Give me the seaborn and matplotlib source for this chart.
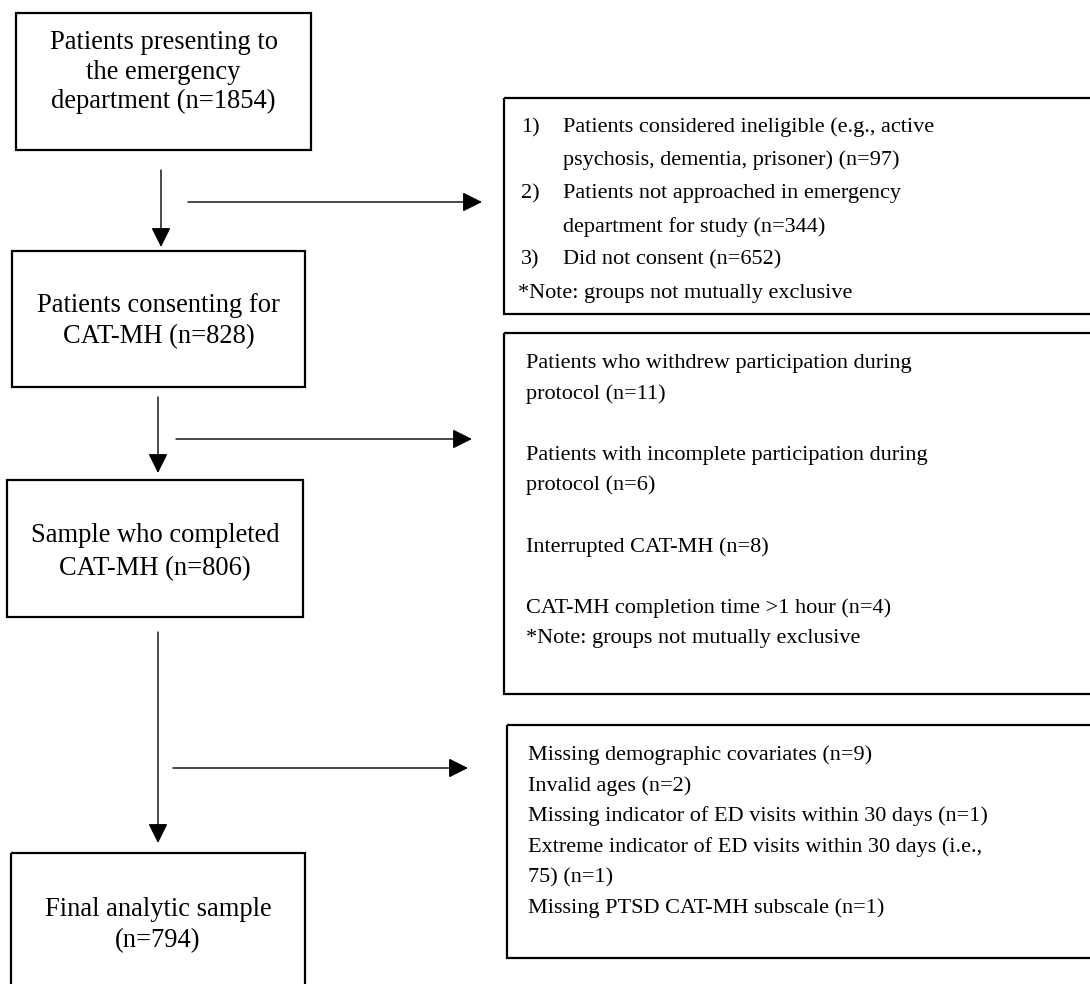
import matplotlib
matplotlib.use("Agg")
import matplotlib.pyplot as plt
from matplotlib.patches import Rectangle, FancyArrowPatch, ArrowStyle
import seaborn as sns

# ---------------- data (texts of the flow chart) ----------------
main_steps = [
    ["Patients presenting to", "the emergency", "department (n=1854)"],
    ["Patients consenting for", "CAT-MH (n=828)"],
    ["Sample who completed", "CAT-MH (n=806)"],
    ["Final analytic sample", "(n=794)"],
]

exclusion1_markers = ["1)", "", "2)", "", "3)"]
exclusion1_lines = [
    "Patients considered ineligible (e.g., active",
    "psychosis, dementia, prisoner) (n=97)",
    "Patients not approached in emergency",
    "department for study (n=344)",
    "Did not consent (n=652)",
]
exclusion1_note = "*Note: groups not mutually exclusive"

exclusion2_lines = [
    "Patients who withdrew participation during",
    "protocol (n=11)",
    "",
    "Patients with incomplete participation during",
    "protocol (n=6)",
    "",
    "Interrupted CAT-MH (n=8)",
    "",
    "CAT-MH completion time >1 hour (n=4)",
    "*Note: groups not mutually exclusive",
]

exclusion3_lines = [
    "Missing demographic covariates (n=9)",
    "Invalid ages (n=2)",
    "Missing indicator of ED visits within 30 days (n=1)",
    "Extreme indicator of ED visits within 30 days (i.e.,",
    "75) (n=1)",
    "Missing PTSD CAT-MH subscale (n=1)",
]

# ---------------- layout (pixels, y downward) ----------------
W, H = 1090, 984
main_boxes = [(16, 13, 311, 150), (12, 251, 305, 387), (7, 480, 303, 617), (11, 853, 305, 1010)]
main_baselines = [[49, 79, 108], [312, 343], [542, 575], [916, 947]]
side_boxes = [(504, 98, 1110, 314), (504, 333, 1110, 694), (507, 725, 1110, 958)]
ex1_base0, ex1_step = 132, 33.2
ex2_base0, ex2_step = 368, 30.6
ex3_base0, ex3_step = 760, 30.6
down_arrows = [(161, 170, 247), (158, 397, 473), (158, 632, 843)]
side_arrows = [(202, 188, 482), (439, 176, 472), (768, 173, 468)]

sns.set_theme(style="white")
plt.rcParams["font.family"] = ["Liberation Serif", "DejaVu Serif"]

fig = plt.figure(figsize=(W / 100, H / 100), dpi=100)
ax = fig.add_axes([0, 0, 1, 1])
ax.set_xlim(0, W)
ax.set_ylim(H, 0)
ax.axis("off")

BIG = 19.1
SMALL = 16.0
box_lw = 1.6

def draw_box(b):
    x0, y0, x1, y1 = b
    ax.add_patch(Rectangle((x0, y0), x1 - x0, y1 - y0, fill=False,
                           edgecolor="black", lw=box_lw, zorder=2))

for b, lines, bases in zip(main_boxes, main_steps, main_baselines):
    draw_box(b)
    cx = (b[0] + b[2]) / 2
    for line, yb in zip(lines, bases):
        ax.text(cx, yb, line, ha="center", va="baseline", fontsize=BIG, color="black")

for b in side_boxes:
    draw_box(b)

# exclusion box 1 (numbered list with hanging indent)
for i, (mk, line) in enumerate(zip(exclusion1_markers, exclusion1_lines)):
    yb = ex1_base0 + i * ex1_step
    if mk:
        ax.text(521, yb, mk, ha="left", va="baseline", fontsize=SMALL, color="black")
    ax.text(563, yb, line, ha="left", va="baseline", fontsize=SMALL, color="black")
ax.text(518, ex1_base0 + len(exclusion1_lines) * ex1_step, exclusion1_note,
        ha="left", va="baseline", fontsize=SMALL, color="black")

for i, line in enumerate(exclusion2_lines):
    if line:
        ax.text(526, ex2_base0 + i * ex2_step, line, ha="left", va="baseline",
                fontsize=SMALL, color="black")

for i, line in enumerate(exclusion3_lines):
    ax.text(528, ex3_base0 + i * ex3_step, line, ha="left", va="baseline",
            fontsize=SMALL, color="black")

style = ArrowStyle("-|>", head_length=12, head_width=6)
for x, y0, y1 in down_arrows:
    ax.add_patch(FancyArrowPatch((x, y0), (x, y1), arrowstyle=style, mutation_scale=1,
                                 lw=1.0, color="black", shrinkA=0, shrinkB=0))
for y, x0, x1 in side_arrows:
    ax.add_patch(FancyArrowPatch((x0, y), (x1, y), arrowstyle=style, mutation_scale=1,
                                 lw=1.0, color="black", shrinkA=0, shrinkB=0))

fig.savefig("out.png", dpi=100, facecolor="white")
